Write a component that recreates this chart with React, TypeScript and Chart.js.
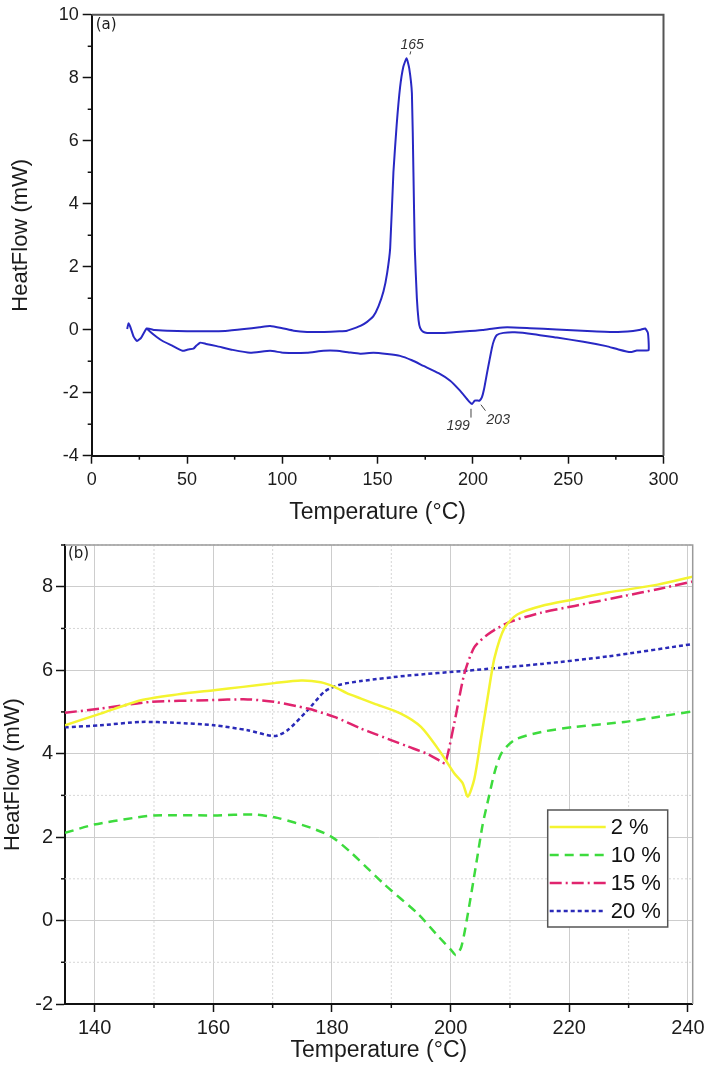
import { useEffect, useRef } from 'react';
import { Chart, registerables } from 'chart.js';

Chart.register(...registerables);

// ---------- Panel (a): full DSC loop ----------
const tempA = [
  18.6, 19.3, 20.2, 22, 23.8, 26, 28.9, 33, 40, 50, 60, 70, 80, 88, 93.6, 100, 106, 113, 122, 130,
  134, 138, 141, 144.5, 147.8, 150.5, 153.1, 155, 156.6, 158.3, 160, 161.8, 163.5, 165.2, 166.6,
  168.0, 168.8, 169.5, 170.6, 171.5, 172.3, 174, 176, 185, 195, 205, 212, 218, 230, 244, 260, 274,
  284, 288, 290.4, 291.8, 292.2, 292.2, 291, 286, 282.6, 276, 270, 258, 244, 232, 222, 216, 212.6,
  211, 210, 208.6, 207.3, 205.8, 204.7, 203.5, 202.3, 201, 199.5, 198.3, 196.9, 193, 188.1, 182,
  174.1, 168, 161.8, 155, 147.8, 140.8, 135, 128.6, 121.6, 112.9, 100.6, 93.6, 83.1, 74, 65.6, 60,
  56.9, 55, 53.4, 50.5, 47.6, 42, 37, 34.1, 31, 28.9,
];
const heatA = [
  0.02, 0.2, 0.1, -0.22, -0.36, -0.25, 0.04, -0.01, -0.03, -0.05, -0.05, -0.04, 0.02, 0.08, 0.12,
  0.05, -0.03, -0.07, -0.07, -0.05, -0.03, 0.05, 0.12, 0.25, 0.43, 0.75, 1.22, 1.8, 2.6, 5.0, 6.5,
  7.7, 8.35, 8.62, 8.3, 7.5, 5.0, 2.6, 1.0, 0.3, 0.06, -0.07, -0.1, -0.1, -0.06, -0.01, 0.05, 0.08,
  0.05, 0.01, -0.04, -0.07, -0.04, 0, 0.04, -0.1, -0.4, -0.65, -0.66, -0.66, -0.71, -0.62, -0.52,
  -0.38, -0.25, -0.14, -0.08, -0.1, -0.17, -0.35, -0.57, -1.0, -1.41, -1.9, -2.15, -2.25, -2.25,
  -2.25, -2.36, -2.3, -2.2, -1.92, -1.62, -1.38, -1.15, -0.97, -0.83, -0.77, -0.73, -0.76, -0.72,
  -0.67, -0.67, -0.73, -0.73, -0.67, -0.73, -0.64, -0.52, -0.45, -0.41, -0.5, -0.6, -0.63, -0.67,
  -0.5, -0.35, -0.23, -0.08, 0.04,
];
const annoLabels = ['165', '199', '203'];
const annoX = [168.1, 192.3, 213.3];
const annoY = [9.05, -3.07, -2.86];
const leadX1 = [167.4, 199.0, 204.2];
const leadY1 = [8.84, -2.51, -2.38];
const leadX2 = [167.0, 199.0, 206.6];
const leadY2 = [8.74, -2.79, -2.57];

// ---------- Panel (b): zoom 135–240 °C ----------
const seriesLabels = ['2 %', '10 %', '15 %', '20 %'];
const seriesColors = ['#f4f430', '#3ddb3d', '#e0246e', '#2a2ab8'];

const tempB2 = [135, 141, 147.8, 154, 160.1, 165, 170.3, 174.8, 178.1, 180.4, 182.5, 184.9, 187.1,
  191.6, 195, 198.4, 200.6, 202, 202.9, 204, 205.1, 206.3, 207.4, 209.1, 211.3, 215.3, 220.9, 226.5,
  234.9, 241];
const heatB2 = [4.68, 4.96, 5.28, 5.42, 5.52, 5.6, 5.69, 5.75, 5.71, 5.6, 5.45, 5.32, 5.2, 4.96,
  4.64, 4.01, 3.53, 3.3, 2.97, 3.4, 4.35, 5.4, 6.3, 7.02, 7.34, 7.54, 7.7, 7.86, 8.05, 8.25];

const tempB10 = [135, 139.9, 146.6, 150, 160.1, 166.9, 170.8, 176.5, 180, 183.2, 188.8, 194.5,
  197.8, 200.1, 200.9, 201.8, 202.9, 204.3, 205.4, 206.5, 207.5, 208.6, 210.8, 215.3, 220.9, 229.3,
  234.9, 241];
const heatB10 = [2.1, 2.3, 2.46, 2.52, 2.52, 2.54, 2.46, 2.22, 2.0, 1.63, 0.87, 0.16, -0.36, -0.71,
  -0.83, -0.63, 0.16, 1.35, 2.3, 3.0, 3.6, 4.02, 4.33, 4.52, 4.64, 4.76, 4.88, 5.02];

const tempB15 = [135, 141, 149.5, 159, 165.8, 170.3, 175.9, 180.4, 184.9, 187.1, 192.8, 196, 198.4,
  199.1, 200.6, 202.3, 204, 206.3, 209.7, 215.3, 220.9, 229.3, 234.9, 241];
const heatB15 = [4.98, 5.08, 5.24, 5.28, 5.3, 5.24, 5.08, 4.88, 4.6, 4.48, 4.17, 4.0, 3.81, 3.77,
  4.72, 5.91, 6.55, 6.86, 7.14, 7.38, 7.54, 7.78, 7.94, 8.13];

const tempB20 = [135, 141, 147.8, 153.4, 160.1, 165.8, 170.3, 172.5, 175.9, 178.7, 181, 184.9,
  192.8, 202.9, 215.3, 226.5, 241];
const heatB20 = [4.63, 4.68, 4.76, 4.74, 4.68, 4.56, 4.42, 4.56, 5.04, 5.48, 5.64, 5.74, 5.87,
  5.99, 6.15, 6.33, 6.63];

const seriesTemps = [tempB2, tempB10, tempB15, tempB20];
const seriesHeats = [heatB2, heatB10, heatB15, heatB20];
const seriesDash = [[], [9, 6], [12, 4, 2, 4], [4, 3]];

const FAMILY = "'Liberation Sans', Arial, sans-serif";
const TXT = '#1c1c1c';

function minorValues(scale: any) {
  const vals = scale.ticks.map((t: any) => t.value);
  if (vals.length < 2) return [];
  const step = vals[1] - vals[0];
  const out: number[] = [];
  const first = vals[0] - step / 2;
  if (first >= scale.min) out.push(first);
  for (let i = 0; i < vals.length; i++) {
    const v = vals[i] + step / 2;
    if (v <= scale.max + 1e-9) out.push(v);
  }
  return out;
}

function makeFramePlugin(cfg: {
  minorLen: number; minorGrid: boolean; frameColor: string; frameWidth: number; panel: string;
  panelDx: number; panelDy: number;
}) {
  return {
    id: 'framePlugin',
    beforeDatasetsDraw(chart: any) {
      if (!cfg.minorGrid) return;
      const { ctx, chartArea } = chart;
      const xs = chart.scales.x;
      const ys = chart.scales.y;
      ctx.save();
      ctx.strokeStyle = '#d6d6d6';
      ctx.lineWidth = 1;
      ctx.setLineDash([2, 2]);
      for (const v of minorValues(xs)) {
        const p = xs.getPixelForValue(v);
        ctx.beginPath();
        ctx.moveTo(p, chartArea.top);
        ctx.lineTo(p, chartArea.bottom);
        ctx.stroke();
      }
      for (const v of minorValues(ys)) {
        const p = ys.getPixelForValue(v);
        ctx.beginPath();
        ctx.moveTo(chartArea.left, p);
        ctx.lineTo(chartArea.right, p);
        ctx.stroke();
      }
      ctx.restore();
    },
    afterDraw(chart: any) {
      const { ctx, chartArea } = chart;
      const xs = chart.scales.x;
      const ys = chart.scales.y;
      ctx.save();
      ctx.strokeStyle = cfg.frameColor;
      ctx.lineWidth = cfg.frameWidth;
      ctx.beginPath();
      ctx.moveTo(chartArea.left, chartArea.top);
      ctx.lineTo(chartArea.right, chartArea.top);
      ctx.lineTo(chartArea.right, chartArea.bottom);
      ctx.stroke();
      ctx.strokeStyle = '#111';
      ctx.lineWidth = 1.5;
      for (const v of minorValues(xs)) {
        const p = xs.getPixelForValue(v);
        ctx.beginPath();
        ctx.moveTo(p, chartArea.bottom);
        ctx.lineTo(p, chartArea.bottom + cfg.minorLen);
        ctx.stroke();
      }
      for (const v of minorValues(ys)) {
        const p = ys.getPixelForValue(v);
        ctx.beginPath();
        ctx.moveTo(chartArea.left, p);
        ctx.lineTo(chartArea.left - cfg.minorLen, p);
        ctx.stroke();
      }
      ctx.fillStyle = TXT;
      ctx.font = "15px 'DejaVu Sans', sans-serif";
      ctx.textAlign = 'left';
      ctx.textBaseline = 'top';
      ctx.fillText(cfg.panel, chartArea.left + cfg.panelDx, chartArea.top + cfg.panelDy);
      ctx.restore();
    },
  };
}

const annotationPlugin = {
  id: 'annoPlugin',
  afterDatasetsDraw(chart: any) {
    const { ctx } = chart;
    const xs = chart.scales.x;
    const ys = chart.scales.y;
    ctx.save();
    ctx.strokeStyle = '#444';
    ctx.lineWidth = 1;
    for (let i = 0; i < annoLabels.length; i++) {
      ctx.beginPath();
      ctx.moveTo(xs.getPixelForValue(leadX1[i]), ys.getPixelForValue(leadY1[i]));
      ctx.lineTo(xs.getPixelForValue(leadX2[i]), ys.getPixelForValue(leadY2[i]));
      ctx.stroke();
    }
    ctx.fillStyle = '#333';
    ctx.font = `italic 14px ${FAMILY}`;
    ctx.textAlign = 'center';
    ctx.textBaseline = 'middle';
    for (let i = 0; i < annoLabels.length; i++) {
      ctx.fillText(annoLabels[i], xs.getPixelForValue(annoX[i]), ys.getPixelForValue(annoY[i]));
    }
    ctx.restore();
  },
};

const legendPlugin = {
  id: 'boxLegend',
  afterDraw(chart: any) {
    const { ctx, chartArea } = chart;
    const w = 120;
    const h = 117;
    const left = chartArea.right - 25 - w;
    const top = chartArea.top + 265;
    ctx.save();
    ctx.fillStyle = '#ffffff';
    ctx.fillRect(left, top, w, h);
    ctx.strokeStyle = '#555';
    ctx.lineWidth = 1.5;
    ctx.strokeRect(left, top, w, h);
    const rowY = [17, 45, 73, 101];
    chart.data.datasets.forEach((ds: any, i: number) => {
      const y = top + rowY[i];
      ctx.strokeStyle = ds.borderColor;
      ctx.lineWidth = ds.borderWidth;
      ctx.setLineDash(ds.borderDash || []);
      ctx.beginPath();
      ctx.moveTo(left + 2, y);
      ctx.lineTo(left + 58, y);
      ctx.stroke();
      ctx.setLineDash([]);
      ctx.fillStyle = '#111';
      ctx.font = `22px ${FAMILY}`;
      ctx.textAlign = 'left';
      ctx.textBaseline = 'middle';
      ctx.fillText(ds.label, left + 63, y + 1);
    });
    ctx.restore();
  },
};

function tickOpts(size: number, pad: number, stepSize: number) {
  return {
    font: { size, family: FAMILY },
    color: TXT,
    padding: pad,
    maxRotation: 0,
    autoSkip: false,
    includeBounds: false,
    stepSize,
  };
}

export default function App() {
  const refA = useRef<HTMLCanvasElement | null>(null);
  const refB = useRef<HTMLCanvasElement | null>(null);

  useEffect(() => {
    const chartA = new Chart(refA.current as HTMLCanvasElement, {
      type: 'scatter',
      data: {
        datasets: [
          {
            label: 'DSC',
            data: tempA.map((x, i) => ({ x, y: heatA[i] })),
            showLine: true,
            borderColor: '#2828c4',
            borderWidth: 2,
            pointRadius: 0,
            tension: 0.15,
          },
        ],
      },
      options: {
        animation: false,
        responsive: false,
        maintainAspectRatio: false,
        layout: { padding: { top: 13, right: 45.5, left: 0, bottom: 0 } },
        plugins: { legend: { display: false }, tooltip: { enabled: false } },
        scales: {
          x: {
            type: 'linear',
            min: 0,
            max: 300,
            ticks: tickOpts(18, 6, 50),
            border: { color: '#111', width: 2 },
            grid: { drawOnChartArea: false, tickLength: 8, tickColor: '#111', tickWidth: 1.5 },
            title: {
              display: true,
              text: 'Temperature (°C)',
              font: { size: 23, family: FAMILY },
              color: TXT,
              padding: { top: 0, bottom: 4 },
            },
            afterFit: (s: any) => { s.height = 74.3; },
          },
          y: {
            type: 'linear',
            min: -4,
            max: 10,
            ticks: tickOpts(18, 4, 2),
            border: { color: '#111', width: 2 },
            grid: { drawOnChartArea: false, tickLength: 9, tickColor: '#111', tickWidth: 1.5 },
            title: {
              display: true,
              text: 'HeatFlow (mW)',
              font: { size: 22, family: FAMILY },
              color: TXT,
              padding: { top: 8, bottom: 0 },
            },
            afterFit: (s: any) => { s.width = 91.7; },
          },
        },
      },
      plugins: [
        makeFramePlugin({ minorLen: 4, minorGrid: false, frameColor: '#555', frameWidth: 2,
          panel: '(a)', panelDx: 4, panelDy: 3 }),
        annotationPlugin,
      ],
    } as any);

    const chartB = new Chart(refB.current as HTMLCanvasElement, {
      type: 'scatter',
      data: {
        datasets: seriesLabels.map((label, k) => ({
          label,
          data: seriesTemps[k].map((x, i) => ({ x, y: seriesHeats[k][i] })),
          showLine: true,
          borderColor: seriesColors[k],
          borderWidth: 2.5,
          borderDash: seriesDash[k],
          pointRadius: 0,
          tension: 0.25,
        })),
      },
      options: {
        animation: false,
        responsive: false,
        maintainAspectRatio: false,
        layout: { padding: { top: 12.3, right: 16.3, left: 0, bottom: 0 } },
        plugins: { legend: { display: false }, tooltip: { enabled: false } },
        scales: {
          x: {
            type: 'linear',
            min: 135,
            max: 240.8,
            ticks: tickOpts(20, 4, 20),
            border: { color: '#111', width: 2 },
            grid: { drawOnChartArea: true, color: '#cdcdcd', lineWidth: 1, tickLength: 8,
              tickColor: '#111', tickWidth: 1.5 },
            title: {
              display: true,
              text: 'Temperature (°C)',
              font: { size: 23, family: FAMILY },
              color: TXT,
              padding: { top: 0, bottom: 4 },
            },
            afterFit: (s: any) => { s.height = 64; },
          },
          y: {
            type: 'linear',
            min: -2,
            max: 9,
            ticks: tickOpts(20, 3, 2),
            border: { color: '#111', width: 2 },
            grid: { drawOnChartArea: true, color: '#cdcdcd', lineWidth: 1, tickLength: 9,
              tickColor: '#111', tickWidth: 1.5 },
            title: {
              display: true,
              text: 'HeatFlow (mW)',
              font: { size: 22, family: FAMILY },
              color: TXT,
              padding: { top: 0, bottom: 0 },
            },
            afterFit: (s: any) => { s.width = 65; },
          },
        },
      },
      plugins: [
        makeFramePlugin({ minorLen: 4, minorGrid: true, frameColor: '#9a9a9a', frameWidth: 1.5,
          panel: '(b)', panelDx: 3, panelDy: 2 }),
        legendPlugin,
      ],
    } as any);

    return () => {
      chartA.destroy();
      chartB.destroy();
    };
  }, []);

  return (
    <div style={{ position: 'absolute', left: 0, top: 0, width: 709, height: 1068, background: '#fff' }}>
      <canvas ref={refA} width={709} height={530} style={{ display: 'block', width: 709, height: 530 }} />
      <canvas ref={refB} width={709} height={538} style={{ display: 'block', width: 709, height: 538 }} />
    </div>
  );
}
